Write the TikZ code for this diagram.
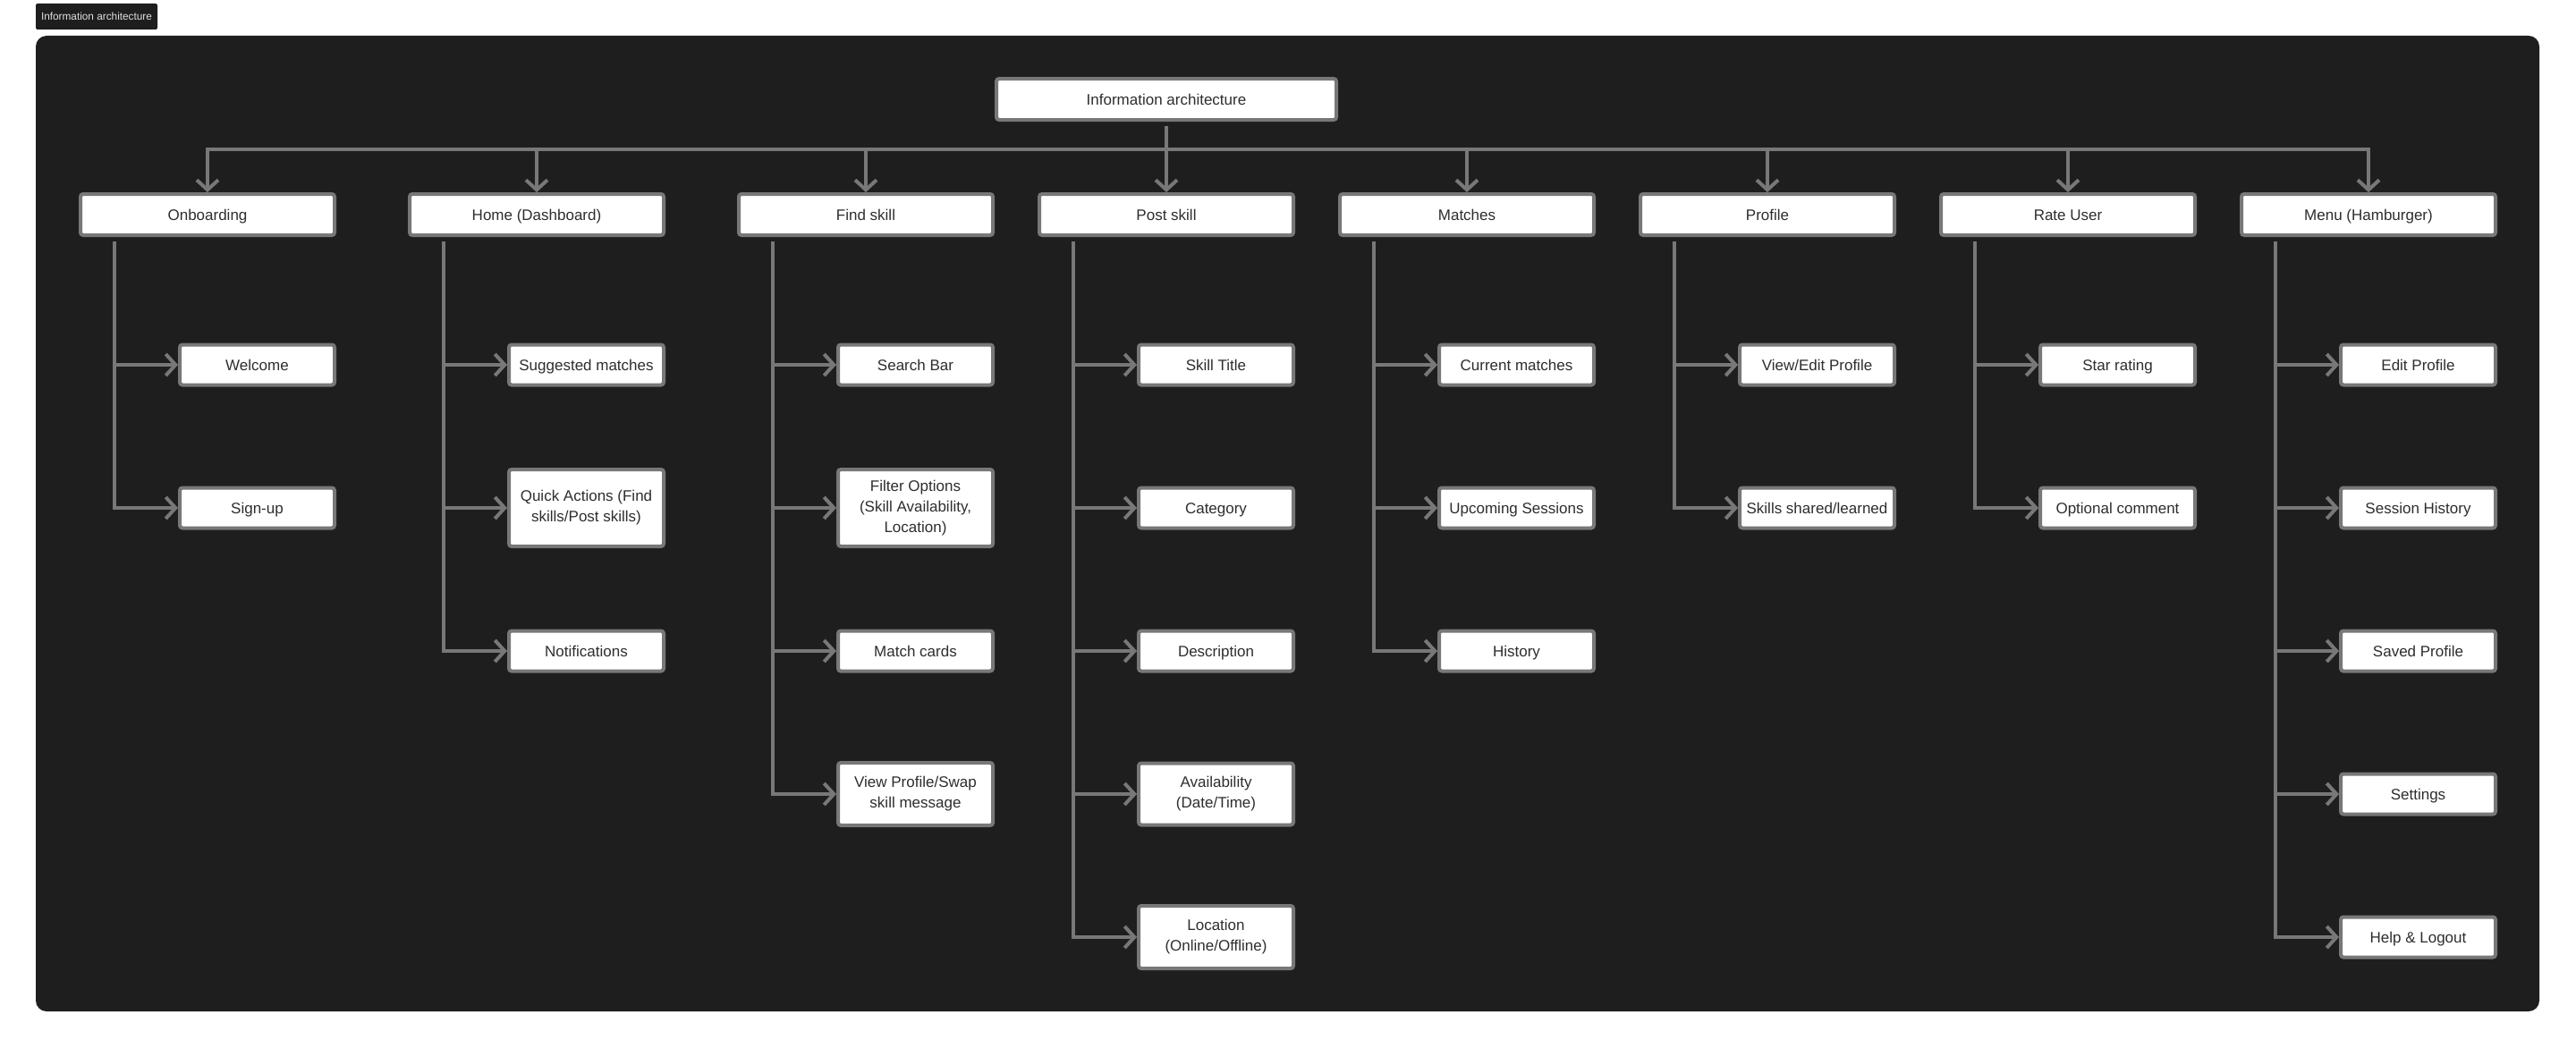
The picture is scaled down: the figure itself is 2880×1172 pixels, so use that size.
\documentclass[tikz,border=0pt]{standalone}
\usepackage{fontspec}
\setmainfont{Liberation Sans}
\usetikzlibrary{arrows.meta}

\definecolor{panel}{HTML}{1E1E1E}
\definecolor{edge}{HTML}{787878}
\definecolor{ink}{HTML}{2E2E2E}

\tikzset{
  box/.style={draw=edge, line width=4pt, fill=white, rounded corners=3pt,
    text=ink, font=\fontsize{17}{23}\selectfont, align=center, inner sep=0pt,
    text height=14pt, text depth=1.8pt},
  topbox/.style={box, minimum width=284pt, minimum height=46pt},
  leafbox/.style={box, minimum width=173pt, minimum height=45pt},
  multi/.style={text height={}, text depth={}},
  link/.style={draw=edge, line width=4pt,
    -{Straight Barb[length=11pt,width=24pt]}}
}

\begin{document}
\begin{tikzpicture}[x=1pt,y=-1pt]

\useasboundingbox (0,0) rectangle (2880,1172);
\fill[white] (0,0) rectangle (2880,1172);

% tag and dark panel
\node[fill=panel, rounded corners=2pt, text=white!88!black, inner sep=0pt,
  minimum width=136pt, minimum height=29pt, font=\fontsize{11.8}{14}\selectfont]
  (tag) at (108,18.5) {Information architecture};
\fill[panel, rounded corners=12pt] (40,40) rectangle (2839,1131);

% root
\node[box, minimum width=380pt, minimum height=46pt] (root) at (1304,111) {Information architecture};

% first level
\node[topbox] (onb) at (232,240) {Onboarding};
\node[topbox] (home) at (600,240) {Home (Dashboard)};
\node[topbox] (find) at (968,240) {Find skill};
\node[topbox] (post) at (1304,240) {Post skill};
\node[topbox] (match) at (1640,240) {Matches};
\node[topbox] (prof) at (1976,240) {Profile};
\node[topbox] (rate) at (2312,240) {Rate User};
\node[topbox] (menu) at (2648,240) {Menu (Hamburger)};

% onboarding
\node[leafbox] (onb1) at (287.5,408) {Welcome};
\node[leafbox] (onb2) at (287.5,568) {Sign-up};

% home
\node[leafbox] (home1) at (655.5,408) {Suggested matches};
\node[leafbox, multi, minimum height=86pt] (home2) at (655.5,568) {Quick Actions (Find\\skills/Post skills)};
\node[leafbox] (home3) at (655.5,728) {Notifications};

% find skill
\node[leafbox] (find1) at (1023.5,408) {Search Bar};
\node[leafbox, multi, minimum height=86pt] (find2) at (1023.5,568) {Filter Options\\(Skill Availability,\\Location)};
\node[leafbox] (find3) at (1023.5,728) {Match cards};
\node[leafbox, multi, minimum height=70pt] (find4) at (1023.5,888) {View Profile/Swap\\skill message};

% post skill
\node[leafbox] (post1) at (1359.5,408) {Skill Title};
\node[leafbox] (post2) at (1359.5,568) {Category};
\node[leafbox] (post3) at (1359.5,728) {Description};
\node[leafbox, multi, minimum height=69pt] (post4) at (1359.5,888) {Availability\\(Date/Time)};
\node[leafbox, multi, minimum height=70pt] (post5) at (1359.5,1048) {Location\\(Online/Offline)};

% matches
\node[leafbox] (match1) at (1695.5,408) {Current matches};
\node[leafbox] (match2) at (1695.5,568) {Upcoming Sessions};
\node[leafbox] (match3) at (1695.5,728) {History};

% profile
\node[leafbox] (prof1) at (2031.5,408) {View/Edit Profile};
\node[leafbox] (prof2) at (2031.5,568) {Skills shared/learned};

% rate user
\node[leafbox] (rate1) at (2367.5,408) {Star rating};
\node[leafbox] (rate2) at (2367.5,568) {Optional comment};

% menu
\node[leafbox] (menu1) at (2703.5,408) {Edit Profile};
\node[leafbox] (menu2) at (2703.5,568) {Session History};
\node[leafbox] (menu3) at (2703.5,728) {Saved Profile};
\node[leafbox] (menu4) at (2703.5,888) {Settings};
\node[leafbox] (menu5) at (2703.5,1048) {Help \& Logout};

% root to first level
\coordinate (rt) at ([yshift=-5pt]root.south);
\coordinate (bar) at (1304,167);
\foreach \col in {onb,home,find,post,match,prof,rate,menu}
  \draw[link] (rt) -- (bar) -| (\col);

% first level to leaves
\foreach \col/\n in {onb/2,home/3,find/4,post/5,match/3,prof/2,rate/2,menu/5} {
  \coordinate (\col-t) at ([xshift=40pt,yshift=-5pt]\col.south west);
  \foreach \k in {1,...,\n}
    \draw[link] (\col-t) |- (\col\k);
}

\end{tikzpicture}
\end{document}
